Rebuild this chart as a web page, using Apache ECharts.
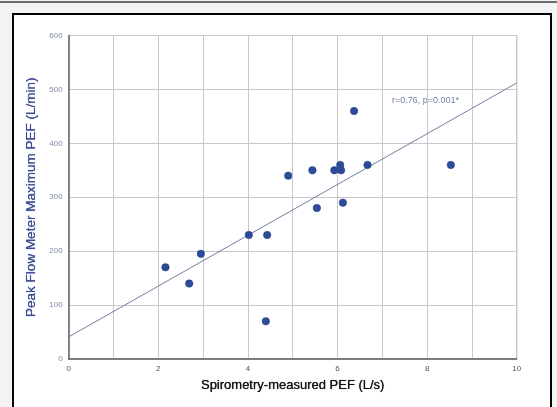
<!DOCTYPE html>
<html>
<head>
<meta charset="utf-8">
<script src="https://cdn.jsdelivr.net/npm/echarts@6/dist/echarts.min.js"></script>
<style>
	html, body { margin: 0; padding: 0; background: #f3f3f3; overflow: hidden; }
	#topbar { position: absolute; left: 0; top: 1px; width: 557px; height: 2px; background: #6a6a6a; }
	#frame { position: absolute; left: 12px; top: 13px; width: 540px; height: 420px;
		box-sizing: border-box; border: 2px solid #000; background: #fff; }
	#chart { position: absolute; left: 0; top: 0; width: 557px; height: 407px; }
</style>
</head>
<body>
<div id="topbar"></div>
<div id="frame"></div>
<div id="chart"></div>
<script>
// values
var spiroPef = [2.16, 2.69, 2.95, 4.02, 4.43, 4.40, 4.90, 5.44, 5.54, 5.93, 6.06, 6.08, 6.12, 6.37, 6.67, 8.53];
var meterPef = [170, 140, 195, 230, 230, 70, 340, 350, 280, 350, 360, 350, 290, 460, 360, 360];
var fitX = [0, 10];
var fitY = [41, 512];
var xTicks = [0, 2, 4, 6, 8, 10];
var yTicks = [0, 100, 200, 300, 400, 500, 600];
var note = 'r=0.76, p=0.001*';

var font = '"Liberation Sans", Arial, sans-serif';

function pairs(xs, ys) {
	var out = [];
	for (var i = 0; i < xs.length; i++) {
		out.push([xs[i], ys[i]]);
	}
	return out;
}

var chart = echarts.init(document.getElementById('chart'));

chart.setOption({
	backgroundColor: 'transparent',
	animation: false,
	textStyle: { fontFamily: font },
	grid: {
		left: 68.7, right: 40.3, top: 35.5, bottom: 48,
		show: true, borderColor: '#808080', borderWidth: 1
	},
	xAxis: {
		type: 'value',
		min: 0, max: 10, interval: 1,
		name: 'Spirometry-measured PEF (L/s)',
		nameLocation: 'middle',
		nameGap: 20,
		nameTextStyle: { fontSize: 13, color: '#111', fontFamily: font, textShadowColor: '#111', textShadowBlur: 0.8 },
		axisLine: { lineStyle: { color: '#666', width: 1.5 } },
		axisTick: { show: false },
		axisLabel: {
			fontSize: 8, color: '#555', margin: 6,
			formatter: function (v) { return xTicks.indexOf(v) >= 0 ? String(v) : ''; }
		},
		splitLine: { lineStyle: { color: '#c8c8c8', width: 1 } }
	},
	yAxis: {
		type: 'value',
		min: 0, max: 600, interval: 100,
		name: 'Peak Flow Meter Maximum PEF (L/min)',
		nameLocation: 'middle',
		nameGap: 23,
		nameTextStyle: { fontSize: 13.5, color: '#3a4c92', fontFamily: font, textShadowColor: '#3a4c92', textShadowBlur: 0.8 },
		axisLine: { show: true, lineStyle: { color: '#666', width: 1.5 } },
		axisTick: { show: false },
		axisLabel: {
			fontSize: 8, color: '#7f8aa3', margin: 6,
			formatter: function (v) { return yTicks.indexOf(v) >= 0 ? String(v) : ''; }
		},
		splitLine: { lineStyle: { color: '#c8c8c8', width: 1 } }
	},
	series: [
		{
			type: 'line',
			data: pairs(fitX, fitY),
			symbol: 'none',
			lineStyle: { color: '#6f7da6', width: 1 },
			z: 2
		},
		{
			type: 'scatter',
			data: pairs(spiroPef, meterPef),
			symbolSize: 7.5,
			itemStyle: { color: '#2e4b98', borderColor: '#243f86', borderWidth: 0.5, opacity: 1 },
			z: 3
		}
	],
	graphic: [{
		type: 'text',
		left: 392, top: 96,
		style: { text: note, fontSize: 9, fill: '#71809f', fontFamily: font }
	}]
});
</script>
</body>
</html>
